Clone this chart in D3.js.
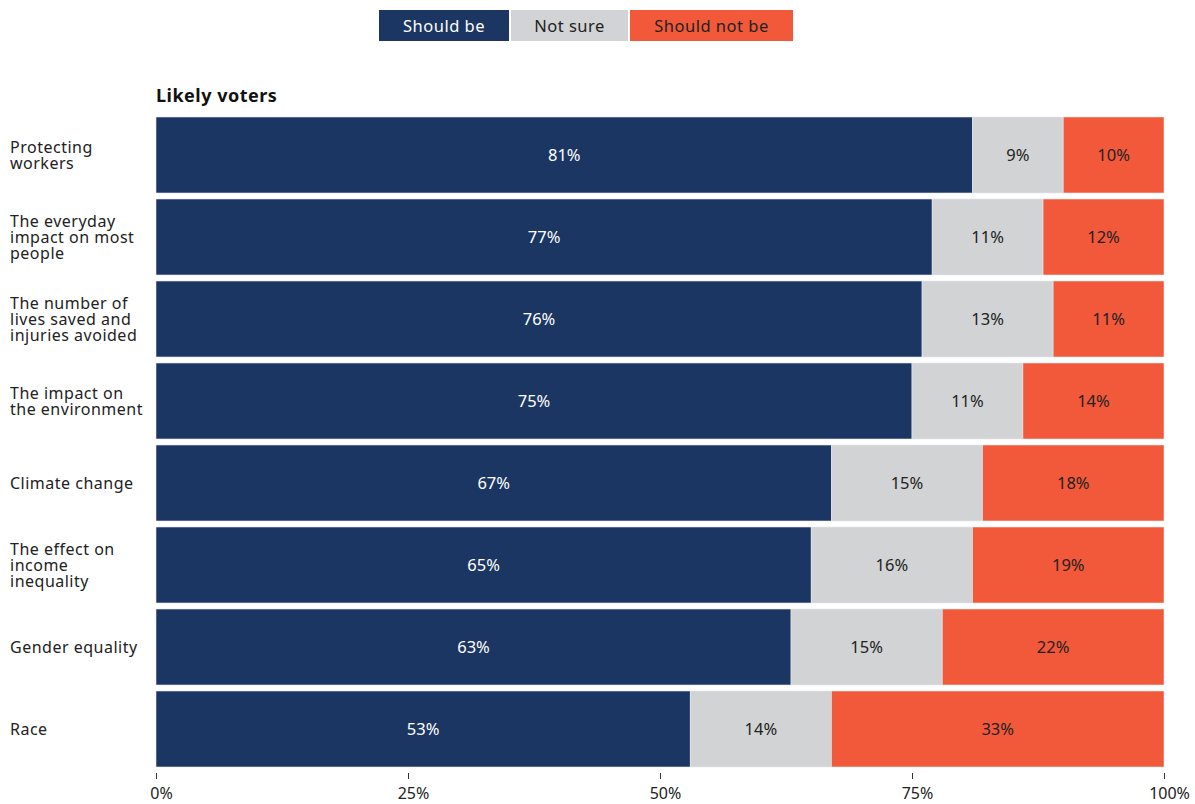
<!DOCTYPE html>
<html>
<head>
<meta charset="utf-8">
<script src="https://cdn.jsdelivr.net/npm/d3@7"></script>
<style>
  body { margin: 0; background: #fff; }
  text { font-family: "Noto Sans", "Open Sans", sans-serif; }
</style>
</head>
<body>
<div id="viz"></div>
<script>
const categories = [
  ["Protecting", "workers"],
  ["The everyday", "impact on most", "people"],
  ["The number of", "lives saved and", "injuries avoided"],
  ["The impact on", "the environment"],
  ["Climate change"],
  ["The effect on", "income", "inequality"],
  ["Gender equality"],
  ["Race"]
];
const shouldBe = [81, 77, 76, 75, 67, 65, 63, 53];
const notSure = [9, 11, 13, 11, 15, 16, 15, 14];
const shouldNotBe = [10, 12, 11, 14, 18, 19, 22, 33];
const seriesNames = ["Should be", "Not sure", "Should not be"];
const tickValues = [0, 25, 50, 75, 100];

const colors = ["#1b3663", "#d1d3d4", "#f2593b"];
const textColors = ["#ffffff", "#222222", "#222222"];

const width = 1195, height = 804;
const svg = d3.select("#viz").append("svg")
    .attr("width", width)
    .attr("height", height);

const x = d3.scaleLinear().domain([0, 100]).range([156, 1164]);
const y = d3.scaleBand()
    .domain(d3.range(categories.length))
    .range([117, 767])
    .paddingInner(6 / 82)
    .paddingOuter(0);

const rows = categories.map((c, i) => {
    const vals = [shouldBe[i], notSure[i], shouldNotBe[i]];
    let acc = 0;
    return vals.map((v, k) => {
        const seg = { row: i, k: k, v: v, x0: acc, x1: acc + v };
        acc += v;
        return seg;
    });
});

// legend
const legendBoxes = [[379, 130], [511, 117], [630, 163]];
const legend = svg.append("g");
seriesNames.forEach((name, k) => {
    legend.append("rect")
        .attr("x", legendBoxes[k][0])
        .attr("y", 10)
        .attr("width", legendBoxes[k][1])
        .attr("height", 31)
        .attr("fill", colors[k]);
    legend.append("text")
        .attr("x", legendBoxes[k][0] + legendBoxes[k][1] / 2)
        .attr("y", 26)
        .attr("dy", "0.35em")
        .attr("text-anchor", "middle")
        .attr("font-size", 16.5)
        .attr("letter-spacing", "0.5px")
        .attr("fill", textColors[k])
        .text(name);
});

svg.append("text")
    .attr("x", 156)
    .attr("y", 102)
    .attr("font-size", 18)
    .attr("letter-spacing", "0.5px")
    .attr("font-weight", "bold")
    .attr("fill", "#111")
    .text("Likely voters");

// bars
const rowG = svg.selectAll("g.row")
    .data(rows)
    .join("g")
    .attr("class", "row");

rowG.selectAll("rect")
    .data(d => d)
    .join("rect")
    .attr("x", d => x(d.x0))
    .attr("y", d => y(d.row))
    .attr("width", d => x(d.x1) - x(d.x0))
    .attr("height", y.bandwidth())
    .attr("fill", d => colors[d.k])
    .attr("stroke", "#e6e8ee")
    .attr("stroke-width", 0.6);

rowG.selectAll("text.val")
    .data(d => d)
    .join("text")
    .attr("class", "val")
    .attr("x", d => (x(d.x0) + x(d.x1)) / 2)
    .attr("y", d => y(d.row) + y.bandwidth() / 2)
    .attr("dy", "0.35em")
    .attr("text-anchor", "middle")
    .attr("font-size", 16.5)
    .attr("fill", d => textColors[d.k])
    .text(d => d.v + "%");

// category labels
const labels = svg.selectAll("text.cat")
    .data(categories)
    .join("text")
    .attr("class", "cat")
    .attr("font-size", 16)
    .attr("letter-spacing", "0.5px")
    .attr("fill", "#222");
labels.each(function (lines, i) {
    const cy = y(i) + y.bandwidth() / 2;
    const start = cy - (lines.length - 1) * 16 / 2;
    d3.select(this).selectAll("tspan")
        .data(lines)
        .join("tspan")
        .attr("x", 10)
        .attr("y", (d, j) => start + j * 16)
        .attr("dy", "0.35em")
        .text(d => d);
});

// x axis
const axis = d3.axisBottom(x)
    .tickValues(tickValues)
    .tickFormat(d => d + "%")
    .tickSize(6)
    .tickPadding(9);
const axisG = svg.append("g")
    .attr("transform", "translate(0,773)")
    .call(axis);
axisG.select(".domain").remove();
axisG.selectAll("line").attr("stroke", "#333");
axisG.selectAll("text")
    .attr("font-size", 16)
    .attr("dx", 5)
    .attr("fill", "#222")
    .style("font-family", "'Noto Sans', sans-serif");
</script>
</body>
</html>
